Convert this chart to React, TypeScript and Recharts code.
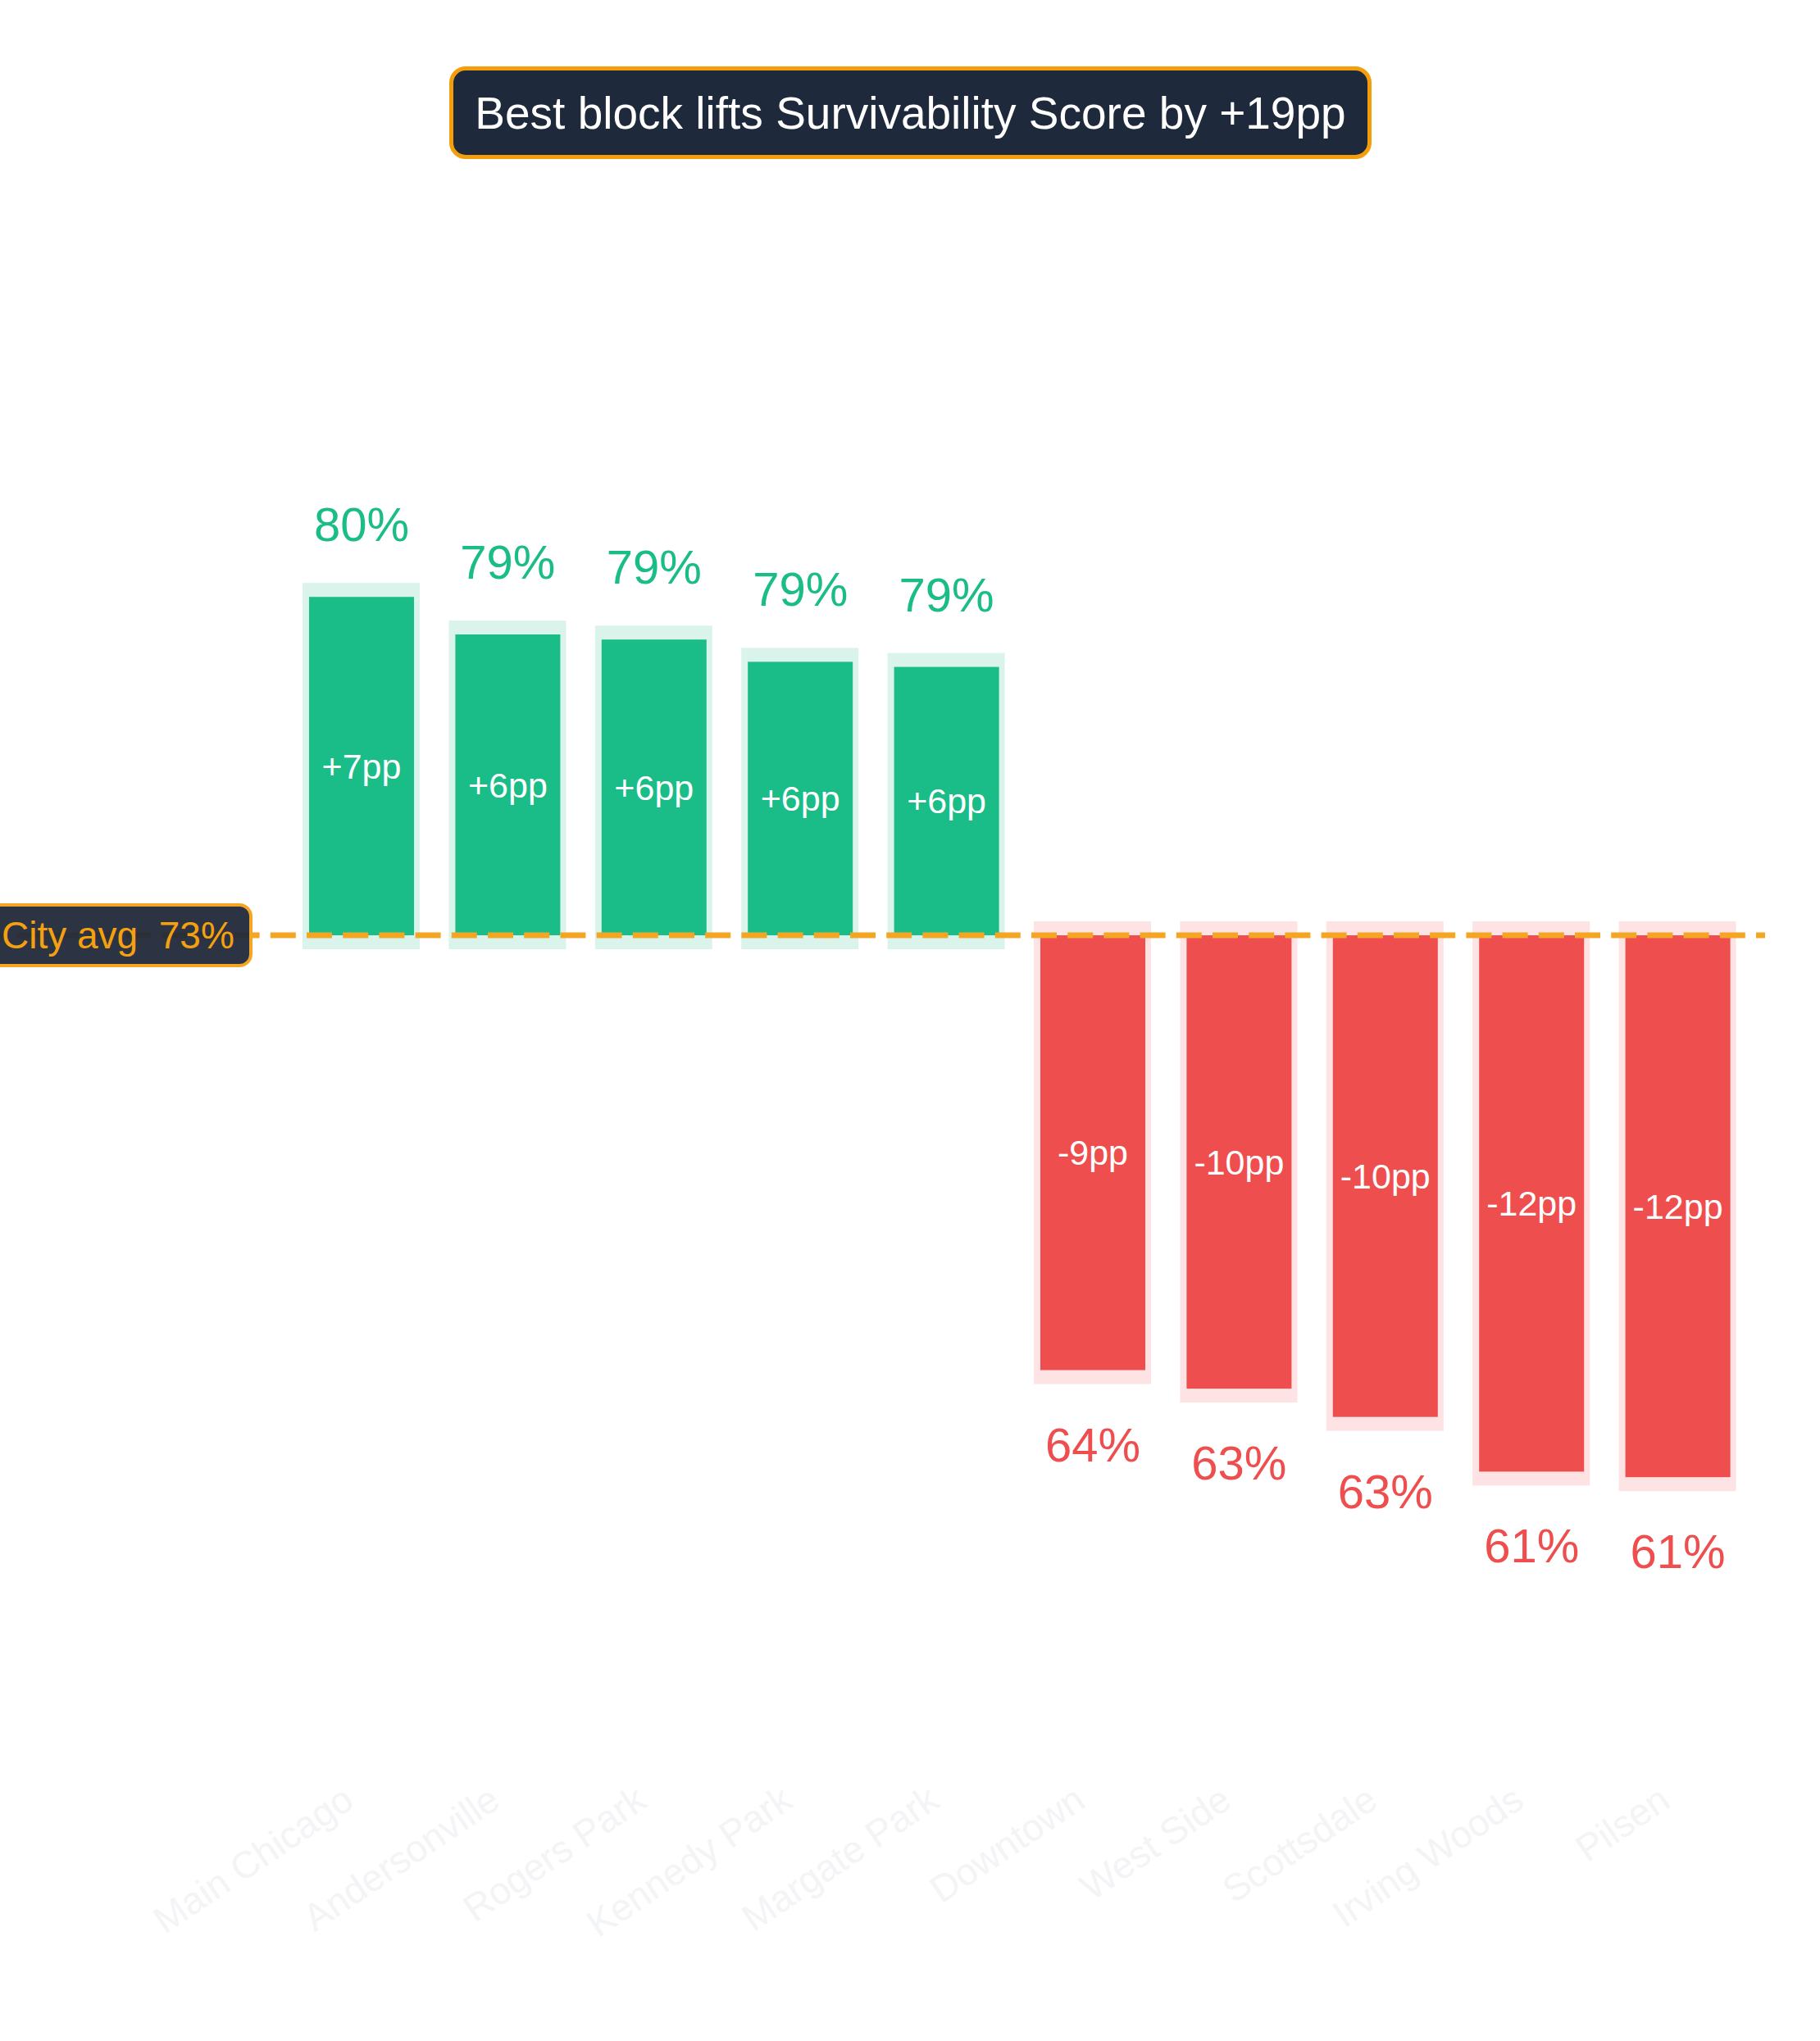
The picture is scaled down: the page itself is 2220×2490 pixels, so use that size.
import React from 'react';
import { ComposedChart, Bar, XAxis, YAxis, ReferenceLine, LabelList } from 'recharts';

const neighborhoods = [
  'Main Chicago',
  'Andersonville',
  'Rogers Park',
  'Kennedy Park',
  'Margate Park',
  'Downtown',
  'West Side',
  'Scottsdale',
  'Irving Woods',
  'Pilsen',
];

// survivability score per neighborhood, in %
const survivability = [80.25, 79.44, 79.33, 78.85, 78.74, 63.57, 63.17, 62.56, 61.38, 61.26];

const cityAverage = 72.95;

const titleText = 'Best block lifts Survivability Score by +19pp';

const FONT = '"Liberation Sans", Arial, Helvetica, sans-serif';
const GREEN = '#1abc87';
const GREEN_SOFT = '#daf4ec';
const RED = '#ef4e4e';
const RED_SOFT = '#fde3e4';
const ORANGE = '#f5a524';

const data = neighborhoods.map((name, i) => ({
  name,
  value: survivability[i],
  delta: survivability[i] - cityAverage,
}));

// normalise a bar rect, negative bars can come with a negative height
const rectOf = (p: any) => {
  const vb = p.viewBox || p;
  const x = vb.x ?? p.x;
  const y = vb.y ?? p.y;
  const w = vb.width ?? p.width;
  const h = vb.height ?? p.height;
  return { x, w, top: Math.min(y, y + h), bottom: Math.max(y, y + h) };
};

const BarShape = (props: any) => {
  const { x, w, top, bottom } = rectOf(props);
  const up = props.payload.delta >= 0;
  return (
    <g>
      <rect x={x - 8} y={top - 17} width={w + 15} height={bottom - top + 34} fill={up ? GREEN_SOFT : RED_SOFT} />
      <rect x={x} y={top} width={w} height={bottom - top} fill={up ? GREEN : RED} />
    </g>
  );
};

const ValueLabel = (props: any) => {
  const { x, w, top, bottom } = rectOf(props);
  const d = data[props.index];
  const up = d.delta >= 0;
  return (
    <text
      x={x + w / 2}
      y={up ? top - 68 : bottom + 111}
      textAnchor="middle"
      fontFamily={FONT}
      fontSize={58}
      fill={up ? GREEN : RED}
    >
      {Math.round(d.value)}%
    </text>
  );
};

const DeltaLabel = (props: any) => {
  const { x, w, top, bottom } = rectOf(props);
  const d = data[props.index];
  const r = Math.round(d.delta);
  return (
    <text
      x={x + w / 2}
      y={(top + bottom) / 2}
      textAnchor="middle"
      dominantBaseline="central"
      fontFamily={FONT}
      fontSize={43}
      fill="#ffffff"
    >
      {r > 0 ? `+${r}` : r}pp
    </text>
  );
};

const AxisTick = ({ x, y, payload }: any) => (
  <text
    x={x - 7}
    y={y + 44}
    transform={`rotate(-34, ${x - 7}, ${y + 44})`}
    textAnchor="end"
    fontFamily={FONT}
    fontSize={46}
    fill="#f3f4f6"
  >
    {payload.value}
  </text>
);

const AvgLabel = ({ viewBox }: any) => {
  const y = viewBox.y;
  return (
    <g>
      <rect x={-16} y={y - 37} width={322} height={74} rx={14} fill="#1f2737" fillOpacity={0.94} stroke={ORANGE} strokeWidth={4} />
      <text x={2} y={y} dominantBaseline="central" fontFamily={FONT} fontSize={46} fill="#f5a10f" style={{ whiteSpace: 'pre' }}>
        {`City avg  ${Math.round(cityAverage)}%`}
      </text>
    </g>
  );
};

export default function App() {
  return (
    <div style={{ position: 'absolute', left: 0, top: 0, width: 2220, height: 2490, background: '#ffffff', fontFamily: FONT }}>
      <div
        style={{
          position: 'absolute',
          left: 548,
          top: 81,
          width: 1125,
          height: 113,
          boxSizing: 'border-box',
          border: '5px solid #f59e0b',
          borderRadius: 20,
          background: '#1e293b',
          color: '#ffffff',
          fontSize: 55,
          display: 'flex',
          alignItems: 'center',
          justifyContent: 'center',
          whiteSpace: 'nowrap',
        }}
      >
        {titleText}
      </div>
      <ComposedChart width={2220} height={2490} data={data} margin={{ top: 10, right: 67, left: 0, bottom: 0 }}>
        <XAxis
          dataKey="name"
          interval={0}
          height={331}
          padding={{ left: 352, right: 17 }}
          axisLine={false}
          tickLine={false}
          tickSize={0}
          tickMargin={0}
          tick={<AxisTick />}
        />
        <YAxis hide domain={[-18, 20]} allowDataOverflow />
        <Bar dataKey="delta" barSize={128} shape={<BarShape />} isAnimationActive={false}>
          <LabelList dataKey="value" content={<ValueLabel />} />
          <LabelList dataKey="delta" content={<DeltaLabel />} />
        </Bar>
        <ReferenceLine
          y={0}
          stroke={ORANGE}
          strokeWidth={7}
          strokeDasharray="31 13.2"
          strokeDashoffset={23.8}
          label={<AvgLabel />}
        />
      </ComposedChart>
    </div>
  );
}
